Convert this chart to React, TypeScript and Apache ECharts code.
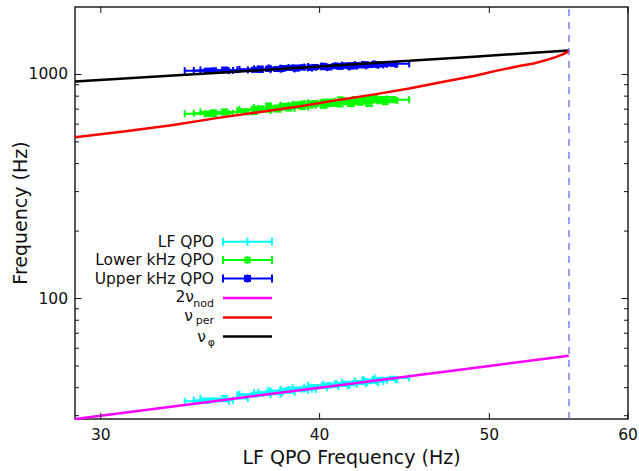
import React, { useEffect, useRef } from 'react';
import * as echarts from 'echarts';

const FONT = "'DejaVu Sans', 'Liberation Sans', sans-serif";

// Axis ticks (values)
const xTickValues = [30, 40, 50, 60];
const yMajorTicks = [100, 1000];
const yMinorTicks = [30, 40, 50, 60, 70, 80, 90, 200, 300, 400, 500, 600, 700, 800, 900];

// Observations: LF QPO centroid frequency (x) with error
const obsLF = [34.5, 34.8, 35.3, 36.7, 37.0, 37.4, 37.8, 38.1, 38.4, 38.8, 39.1, 39.5, 39.8, 40.2, 40.5, 40.8, 41.1, 41.4, 41.7, 41.9, 42.2, 42.5, 42.7, 43.0, 43.3, 43.6, 44.0];
const obsLFErr = [1.0, 0.9, 1.1, 0.8, 1.0, 0.7, 0.9, 0.6, 1.0, 0.8, 0.7, 0.9, 0.6, 0.8, 1.1, 0.7, 0.9, 0.6, 0.8, 0.7, 1.0, 0.6, 0.8, 0.7, 0.9, 0.7, 1.0];

// LF QPO frequency on y
const lfQpoY = [34.8, 35.2, 35.8, 37.2, 37.4, 38.0, 38.2, 38.7, 38.9, 39.4, 39.3, 40.0, 40.3, 40.5, 41.0, 40.8, 41.4, 41.7, 41.6, 42.2, 42.1, 42.8, 42.6, 43.2, 43.4, 43.5, 44.2];
const lfQpoYErr = [0.6, 0.5, 0.9, 0.7, 0.6, 0.8, 0.5, 0.7, 0.9, 0.6, 0.8, 0.5, 0.7, 0.6, 0.9, 0.5, 0.7, 0.8, 0.6, 0.7, 0.5, 0.8, 0.6, 0.7, 0.9, 0.5, 0.6];

// Lower kHz QPO
const lowerKHz = [668, 672, 680, 690, 700, 712, 705, 720, 715, 730, 728, 735, 742, 738, 748, 745, 755, 760, 750, 768, 762, 772, 758, 778, 770, 765, 772];
const lowerKHzErr = [15, 20, 18, 25, 20, 30, 22, 18, 25, 20, 28, 22, 18, 30, 25, 20, 35, 22, 28, 25, 30, 20, 35, 25, 22, 28, 20];

// Upper kHz QPO
const upperKHz = [1040, 1042, 1048, 1050, 1055, 1060, 1058, 1065, 1070, 1068, 1075, 1072, 1080, 1085, 1078, 1090, 1088, 1095, 1092, 1100, 1098, 1105, 1102, 1110, 1108, 1112, 1115];
const upperKHzErr = [15, 20, 25, 18, 30, 22, 18, 25, 20, 28, 22, 25, 18, 30, 25, 20, 28, 22, 30, 25, 20, 28, 22, 25, 20, 18, 15];

// Model curves
const phiX = [29, 33, 37, 41, 45, 49, 53, 55.5];
const phiY = [931, 990, 1045, 1100, 1150, 1200, 1250, 1278];
const perX = [29, 31, 33, 35, 37, 39, 41, 43, 45, 47, 49, 50.5, 52, 53, 54, 54.6, 55.1, 55.4, 55.5];
const perY = [525, 558, 595, 640, 680, 722, 770, 815, 865, 925, 985, 1040, 1090, 1120, 1165, 1198, 1232, 1258, 1278];
const nodX = [29, 35, 40, 45, 50, 55.5];
const nodY = [29, 35, 40, 45, 50, 55.5];
const iscoFreq = 55.5;

function errorBarRenderer(color: string, marker: 'none' | 'x' | 'square') {
  return (params: any, api: any) => {
    const x = api.value(0), y = api.value(1), xe = api.value(2), ye = api.value(3);
    const c = api.coord([x, y]);
    const l = api.coord([x - xe, y])[0];
    const r = api.coord([x + xe, y])[0];
    const t = api.coord([x, y + ye])[1];
    const b = api.coord([x, y - ye])[1];
    const st = { stroke: color, lineWidth: 2, fill: 'none' };
    const cap = 3.5;
    const children: any[] = [
      { type: 'line', shape: { x1: l, y1: c[1], x2: r, y2: c[1] }, style: st },
      { type: 'line', shape: { x1: l, y1: c[1] - cap, x2: l, y2: c[1] + cap }, style: st },
      { type: 'line', shape: { x1: r, y1: c[1] - cap, x2: r, y2: c[1] + cap }, style: st },
      { type: 'line', shape: { x1: c[0], y1: t, x2: c[0], y2: b }, style: st },
      { type: 'line', shape: { x1: c[0] - cap, y1: t, x2: c[0] + cap, y2: t }, style: st },
      { type: 'line', shape: { x1: c[0] - cap, y1: b, x2: c[0] + cap, y2: b }, style: st },
    ];
    if (marker === 'x') {
      children.push({ type: 'line', shape: { x1: c[0] - 3, y1: c[1] - 3, x2: c[0] + 3, y2: c[1] + 3 }, style: st });
      children.push({ type: 'line', shape: { x1: c[0] - 3, y1: c[1] + 3, x2: c[0] + 3, y2: c[1] - 3 }, style: st });
    } else if (marker === 'square') {
      children.push({ type: 'rect', shape: { x: c[0] - 3, y: c[1] - 3, width: 6, height: 6 }, style: { fill: color } });
    }
    return { type: 'group', children };
  };
}

function legendIcon(y: number, color: string, kind: 'eb' | 'x' | 'square' | 'line'): any[] {
  const x1 = 223, x2 = 272, xc = 247.5;
  const st = { stroke: color, lineWidth: kind === 'line' ? 2.5 : 2 };
  const els: any[] = [{ type: 'line', shape: { x1, y1: y, x2, y2: y }, style: st }];
  if (kind !== 'line') {
    els.push({ type: 'line', shape: { x1, y1: y - 4, x2: x1, y2: y + 4 }, style: st });
    els.push({ type: 'line', shape: { x1: x2, y1: y - 4, x2, y2: y + 4 }, style: st });
    els.push({ type: 'line', shape: { x1: xc, y1: y - 4, x2: xc, y2: y + 4 }, style: st });
  }
  if (kind === 'x') {
    els.push({ type: 'line', shape: { x1: xc - 3, y1: y - 3, x2: xc + 3, y2: y + 3 }, style: st });
    els.push({ type: 'line', shape: { x1: xc - 3, y1: y + 3, x2: xc + 3, y2: y - 3 }, style: st });
  } else if (kind === 'square') {
    els.push({ type: 'rect', shape: { x: xc - 3.5, y: y - 3.5, width: 7, height: 7 }, style: { fill: color } });
  }
  return els;
}

function txt(text: string, x: number, y: number, size: number) {
  return {
    type: 'text', x, y,
    style: {
      text, fontSize: size, fontFamily: FONT, fill: '#111', align: 'right', verticalAlign: 'middle',
      lineHeight: size,
    },
  };
}

export default function App() {
  const ref = useRef<HTMLDivElement>(null);
  useEffect(() => {
    document.body.style.margin = '0';
    const chart = echarts.init(ref.current!, null, { renderer: 'svg' });
    const tickStyle = { stroke: '#111', lineWidth: 1 };
    const option: any = {
      animation: false,
      backgroundColor: '#fff',
      grid: { left: 75, top: 7, right: 11, bottom: 51, show: true, borderColor: '#222', borderWidth: 1.5 },
      xAxis: {
        type: 'log', logBase: 10, min: 29, max: 60,
        name: 'LF QPO Frequency (Hz)', nameLocation: 'middle', nameGap: 28,
        nameTextStyle: { fontSize: 19, fontFamily: FONT, color: '#111' },
        axisLine: { show: false }, axisTick: { show: false }, axisLabel: { show: false }, splitLine: { show: false },
      },
      yAxis: {
        type: 'log', logBase: 10, min: 29, max: 2000,
        name: 'Frequency (Hz)', nameLocation: 'middle', nameGap: 46,
        nameTextStyle: { fontSize: 19, fontFamily: FONT, color: '#111' },
        axisLine: { show: false }, axisTick: { show: false }, axisLabel: { show: false }, splitLine: { show: false },
      },
      graphic: {
        elements: [
          txt('LF QPO', 214, 241.7, 15.5),
          txt('Lower kHz QPO', 214, 260, 15.5),
          txt('Upper kHz QPO', 214, 278.5, 15.5),
          txt('2ν', 194, 296.5, 15.5),
          txt('nod', 214, 303, 11),
          txt('ν', 193, 315.5, 15.5),
          txt('per', 214, 320.5, 11),
          txt('ν', 206, 336.5, 15.5),
          txt('φ', 215, 342.5, 11),
          ...legendIcon(241.7, '#00ffff', 'eb'),
          ...legendIcon(260, '#00ff00', 'x'),
          ...legendIcon(278.5, '#0000ff', 'square'),
          ...legendIcon(298, '#ff00ff', 'line'),
          ...legendIcon(317.5, '#ff0000', 'line'),
          ...legendIcon(336.5, '#000000', 'line'),
        ],
      },
      series: [
        {
          name: 'LF QPO', type: 'custom', renderItem: errorBarRenderer('#00ffff', 'none'),
          data: obsLF.map((x, i) => [x, lfQpoY[i], obsLFErr[i], lfQpoYErr[i]]), encode: { x: 0, y: 1 }, silent: true,
        },
        {
          name: 'Lower kHz QPO', type: 'custom', renderItem: errorBarRenderer('#00ff00', 'x'),
          data: obsLF.map((x, i) => [x, lowerKHz[i], obsLFErr[i], lowerKHzErr[i]]), encode: { x: 0, y: 1 }, silent: true,
        },
        {
          name: 'Upper kHz QPO', type: 'custom', renderItem: errorBarRenderer('#0000ff', 'square'),
          data: obsLF.map((x, i) => [x, upperKHz[i], obsLFErr[i], upperKHzErr[i]]), encode: { x: 0, y: 1 }, silent: true,
        },
        {
          name: 'nu_phi', type: 'line', symbol: 'none', data: phiX.map((x, i) => [x, phiY[i]]),
          lineStyle: { color: '#000', width: 2.5 }, z: 3,
        },
        {
          name: 'nu_per', type: 'line', symbol: 'none', smooth: false,
          data: perX.map((x, i) => [x, perY[i]]), lineStyle: { color: '#ff0000', width: 2.5 }, z: 3,
        },
        {
          name: '2nu_nod', type: 'line', symbol: 'none', data: nodX.map((x, i) => [x, nodY[i]]),
          lineStyle: { color: '#ff00ff', width: 2.5 }, z: 3,
          markLine: {
            silent: true, symbol: 'none', label: { show: false },
            lineStyle: { color: 'rgba(90,90,255,0.8)', width: 1.5, type: [7, 6] },
            data: [{ xAxis: iscoFreq }],
          },
        },
        {
          type: 'custom', silent: true, z: 5,
          data: xTickValues.map((v) => [v, 100]), encode: { x: 0, y: 1 },
          renderItem: (params: any, api: any) => {
            const cs = params.coordSys;
            const v = api.value(0);
            const px = api.coord([v, 100])[0];
            const bottom = cs.y + cs.height;
            return {
              type: 'group', children: [
                { type: 'line', shape: { x1: px, y1: bottom, x2: px, y2: bottom - 6 }, style: tickStyle },
                { type: 'line', shape: { x1: px, y1: cs.y, x2: px, y2: cs.y + 6 }, style: tickStyle },
                {
                  type: 'text', x: px, y: bottom + 8,
                  style: { text: String(v), fontSize: 15.5, fontFamily: FONT, fill: '#111', align: 'center', verticalAlign: 'top' },
                },
              ],
            };
          },
        },
        {
          type: 'custom', silent: true, z: 5,
          data: yMajorTicks.map((v) => [40, v]), encode: { x: 0, y: 1 },
          renderItem: (params: any, api: any) => {
            const cs = params.coordSys;
            const v = api.value(1);
            const py = api.coord([40, v])[1];
            const right = cs.x + cs.width;
            return {
              type: 'group', children: [
                { type: 'line', shape: { x1: cs.x, y1: py, x2: cs.x + 6.5, y2: py }, style: tickStyle },
                { type: 'line', shape: { x1: right, y1: py, x2: right - 6.5, y2: py }, style: tickStyle },
                {
                  type: 'text', x: cs.x - 7, y: py,
                  style: { text: String(v), fontSize: 15.5, fontFamily: FONT, fill: '#111', align: 'right', verticalAlign: 'middle' },
                },
              ],
            };
          },
        },
        {
          type: 'custom', silent: true, z: 5,
          data: yMinorTicks.map((v) => [40, v]), encode: { x: 0, y: 1 },
          renderItem: (params: any, api: any) => {
            const cs = params.coordSys;
            const py = api.coord([40, api.value(1)])[1];
            const right = cs.x + cs.width;
            return {
              type: 'group', children: [
                { type: 'line', shape: { x1: cs.x, y1: py, x2: cs.x + 4, y2: py }, style: tickStyle },
                { type: 'line', shape: { x1: right, y1: py, x2: right - 4, y2: py }, style: tickStyle },
              ],
            };
          },
        },
      ],
    };
    chart.setOption(option);
    return () => chart.dispose();
  }, []);
  return <div ref={ref} style={{ width: 639, height: 471 }} />;
}
